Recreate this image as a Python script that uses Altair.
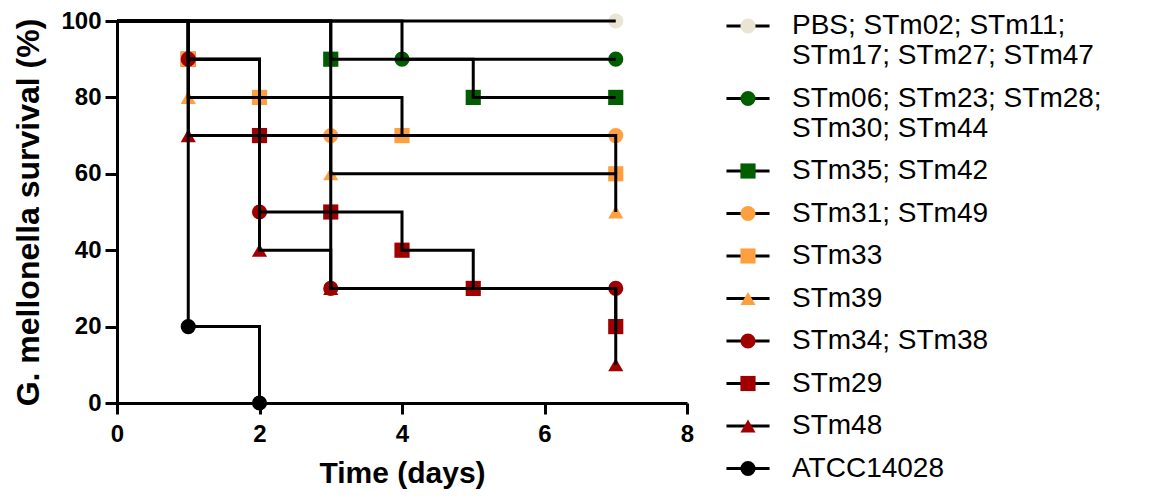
import altair as alt
import pandas as pd

# ---- data ----
groups = [
    "PBS; STm02; STm11;|STm17; STm27; STm47",
    "STm06; STm23; STm28;|STm30; STm44",
    "STm35; STm42",
    "STm31; STm49",
    "STm33",
    "STm39",
    "STm34; STm38",
    "STm29",
    "STm48",
    "ATCC14028",
]
times = [
    [0, 7],
    [0, 4, 7],
    [0, 3, 5, 7],
    [0, 3, 7],
    [0, 1, 2, 4, 7],
    [0, 1, 3, 7],
    [0, 1, 2, 3, 7],
    [0, 1, 2, 3, 4, 5, 7],
    [0, 1, 2, 3, 7],
    [0, 1, 2],
]
survival = [
    [100, 100],
    [100, 90, 90],
    [100, 90, 80, 80],
    [100, 70, 70],
    [100, 90, 80, 70, 60],
    [100, 80, 60, 50],
    [100, 90, 50, 30, 30],
    [100, 90, 70, 50, 40, 30, 20],
    [100, 70, 40, 30, 10],
    [100, 20, 0],
]
colors = ["#E9E5D2", "#005E00", "#005E00", "#FFA040", "#FFA040", "#FFA040",
          "#A00000", "#A00000", "#A00000", "#000000"]
shapes = ["circle", "circle", "square", "circle", "square", "triangle-up",
          "circle", "square", "triangle-up", "circle"]
x_ticks = [0, 2, 4, 6, 8]
y_ticks = [0, 20, 40, 60, 80, 100]
# markers drawn first (underneath the others)
draw_first = ["STm29"]

line_rows = []
for g, ts, ss in zip(groups, times, survival):
    for t, s in zip(ts, ss):
        line_rows.append({"series": g, "t": t, "s": s})
df_lines = pd.DataFrame(line_rows)

point_order = [g for g in groups if g in draw_first] + [g for g in groups if g not in draw_first]
pt_rows = []
for g in point_order:
    i = groups.index(g)
    for t, s in zip(times[i], survival[i]):
        if t > 0:
            pt_rows.append({"group": g, "t": t, "s": s})
df_pts = pd.DataFrame(pt_rows)

FONT = "Liberation Sans"
label_expr = "split(datum.label, '|')"
blank_expr = "split(replace(datum.label, /[^|]+/g, ' '), '|')"

LEG_X, LEG_Y, ROW_PAD, SYM = 617, -9, 14.5, 230

x_enc = alt.X("t:Q", scale=alt.Scale(domain=[0, 8], nice=False, zero=False),
              axis=alt.Axis(values=x_ticks, title="Time (days)", format="d", labelFlush=False,
                            labelPadding=8, titlePadding=12, tickSize=11))
y_enc = alt.Y("s:Q", scale=alt.Scale(domain=[0, 100], nice=False),
              axis=alt.Axis(values=y_ticks, title="G. mellonella survival (%)", format="d",
                            labelFlush=False, labelPadding=4, titlePadding=15, tickSize=12,
                            titleFontSize=32))

pt_legend = alt.Legend(orient="none", legendX=LEG_X, legendY=LEG_Y, title=None,
                       labelExpr=label_expr, labelFontSize=28, labelFont=FONT,
                       labelColor="black", labelLimit=0, labelOffset=30,
                       symbolSize=SYM, symbolStrokeWidth=0, symbolOpacity=1,
                       rowPadding=ROW_PAD, padding=0, zindex=2)

points = alt.Chart(df_pts).mark_point(filled=True, size=SYM, opacity=1).encode(
    x=x_enc,
    y=y_enc,
    color=alt.Color("group:N", scale=alt.Scale(domain=groups, range=colors), legend=pt_legend),
    shape=alt.Shape("group:N", scale=alt.Scale(domain=groups, range=shapes), legend=pt_legend),
)

lines = alt.Chart(df_lines).mark_line(interpolate="step-after", strokeWidth=3).encode(
    x=x_enc,
    y=y_enc,
    stroke=alt.Stroke("series:N", scale=alt.Scale(domain=groups, range=["#000000"] * len(groups)),
                      legend=alt.Legend(orient="none", legendX=LEG_X, legendY=LEG_Y, title=None,
                                        labelExpr=blank_expr, labelFontSize=28, labelFont=FONT,
                                        labelOpacity=0, labelLimit=0, labelOffset=30,
                                        symbolType="M-2.84,0H2.84", symbolSize=SYM,
                                        symbolStrokeWidth=3, symbolStrokeColor="black",
                                        symbolFillColor="transparent",
                                        rowPadding=ROW_PAD, padding=0, zindex=1)),
)

chart = alt.layer(points, lines).resolve_scale(
    color="independent", shape="independent", stroke="independent"
).properties(
    width=570, height=382,
    autosize=alt.AutoSizeParams(type="none"),
    padding={"left": 109, "top": 13, "right": 457, "bottom": 89},
).configure_view(stroke=None).configure_axis(
    grid=False, domainColor="black", domainWidth=3, tickColor="black", tickWidth=3,
    labelFont=FONT, labelFontSize=24, labelFontWeight="bold", labelColor="black",
    titleFont=FONT, titleFontSize=30, titleFontWeight="bold", titleColor="black",
)

chart.save("out.html", embed_options={"renderer": "svg", "actions": False})
